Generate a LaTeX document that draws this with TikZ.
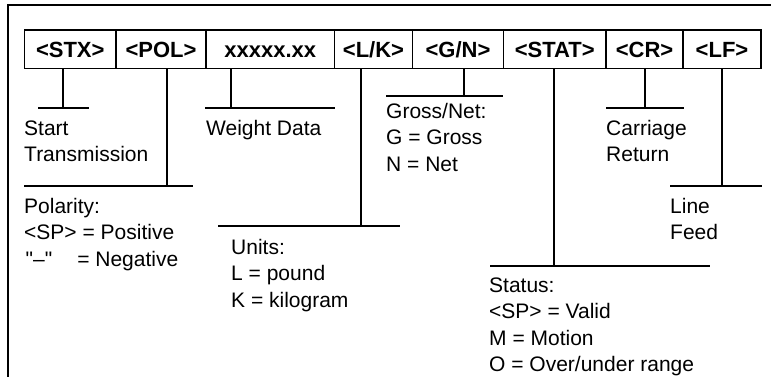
\documentclass[tikz,border=0pt]{standalone}
\usepackage{fontspec}
\setmainfont{Liberation Sans}
\begin{document}
\begin{tikzpicture}[x=1pt,y=-1pt,
  frameline/.style={line width=2.4pt},
  cell/.style={draw, line width=1.2pt, inner sep=0pt, minimum height=38.5pt,
    text height=15.5pt, text depth=0pt, font=\fontsize{22}{24}\selectfont\bfseries},
  leader/.style={line width=1.3pt},
  lbl/.style={inner sep=0pt, anchor=north west, align=left,
    font=\fontsize{21}{26.5}\selectfont}]
\useasboundingbox (0,0) rectangle (771,377);
% frame (cropped)
\coordinate (fl) at (8.2,377);
\coordinate (fc) at (8.2,5.2);
\coordinate (fr) at (771,5.2);
\draw[frameline] (fl) -- (fc) -- (fr);
% cells
\node[cell, minimum width=91.5pt]  (stx)  at (70.25,49.3)  {<STX>};
\node[cell, minimum width=90pt]    (pol)  at (161,49.3)    {<POL>};
\node[cell, minimum width=128.5pt] (wt)   at (270.25,49.3) {xxxxx.xx};
\node[cell, minimum width=78pt]    (lk)   at (373.5,49.3)  {<L/K>};
\node[cell, minimum width=91pt]    (gn)   at (458,49.3)    {<G/N>};
\node[cell, minimum width=102.5pt] (stat) at (554.75,49.3) {<STAT>};
\node[cell, minimum width=77pt]    (cr)   at (644.5,49.3)  {<CR>};
\node[cell, minimum width=78pt]    (lf)   at (722,49.3)    {<LF>};
% junctions and bar ends
\coordinate (j1) at (63,108);   \coordinate (b1a) at (38,108);  \coordinate (b1b) at (89,108);
\coordinate (j2) at (167,186);  \coordinate (b2a) at (24,186);  \coordinate (b2b) at (193,186);
\coordinate (j3) at (231,108);  \coordinate (b3a) at (205,108); \coordinate (b3b) at (335,108);
\coordinate (j4) at (361,226);  \coordinate (b4a) at (218,226); \coordinate (b4b) at (400,226);
\coordinate (j5) at (464,96);   \coordinate (b5a) at (386,96);  \coordinate (b5b) at (503,96);
\coordinate (j6) at (554,266);  \coordinate (b6a) at (490,266); \coordinate (b6b) at (710,266);
\coordinate (j7) at (645,108);  \coordinate (b7a) at (606,108); \coordinate (b7b) at (684,108);
\coordinate (j8) at (722,186);  \coordinate (b8a) at (670,186); \coordinate (b8b) at (762,186);
\foreach \c/\n in {stx/1,pol/2,wt/3,lk/4,gn/5,stat/6,cr/7,lf/8}{
  \draw[leader] (\c.south -| j\n) -- (j\n);
  \draw[leader] (b\n a) -- (b\n b);
}
% labels
\node[lbl] (tstart) at (24,116.45)  {\strut Start\\Transmission};
\node[lbl] (tweight) at (206,116.45) {\strut Weight Data};
\node[lbl] (tpol) at (24,194.45) {\strut Polarity:\\<SP> = Positive\\\hspace*{1.5pt}\textquotedbl\textendash\textquotedbl\hspace{25pt}= Negative};
\node[lbl] (tunits) at (231,235.45) {\strut Units:\\L = pound\\K = kilogram};
\node[lbl] (tgross) at (386,99.45) {\strut Gross/Net:\\G = Gross\\N = Net};
\node[lbl] (tcr) at (606,116.45) {\strut Carriage\\Return};
\node[lbl] (tlf) at (670,194.45) {\strut Line\\Feed};
\node[lbl] (tstat) at (489,273.45) {\strut Status:\\<SP> = Valid\\M = Motion\\O = Over/under range};
\end{tikzpicture}
\end{document}
